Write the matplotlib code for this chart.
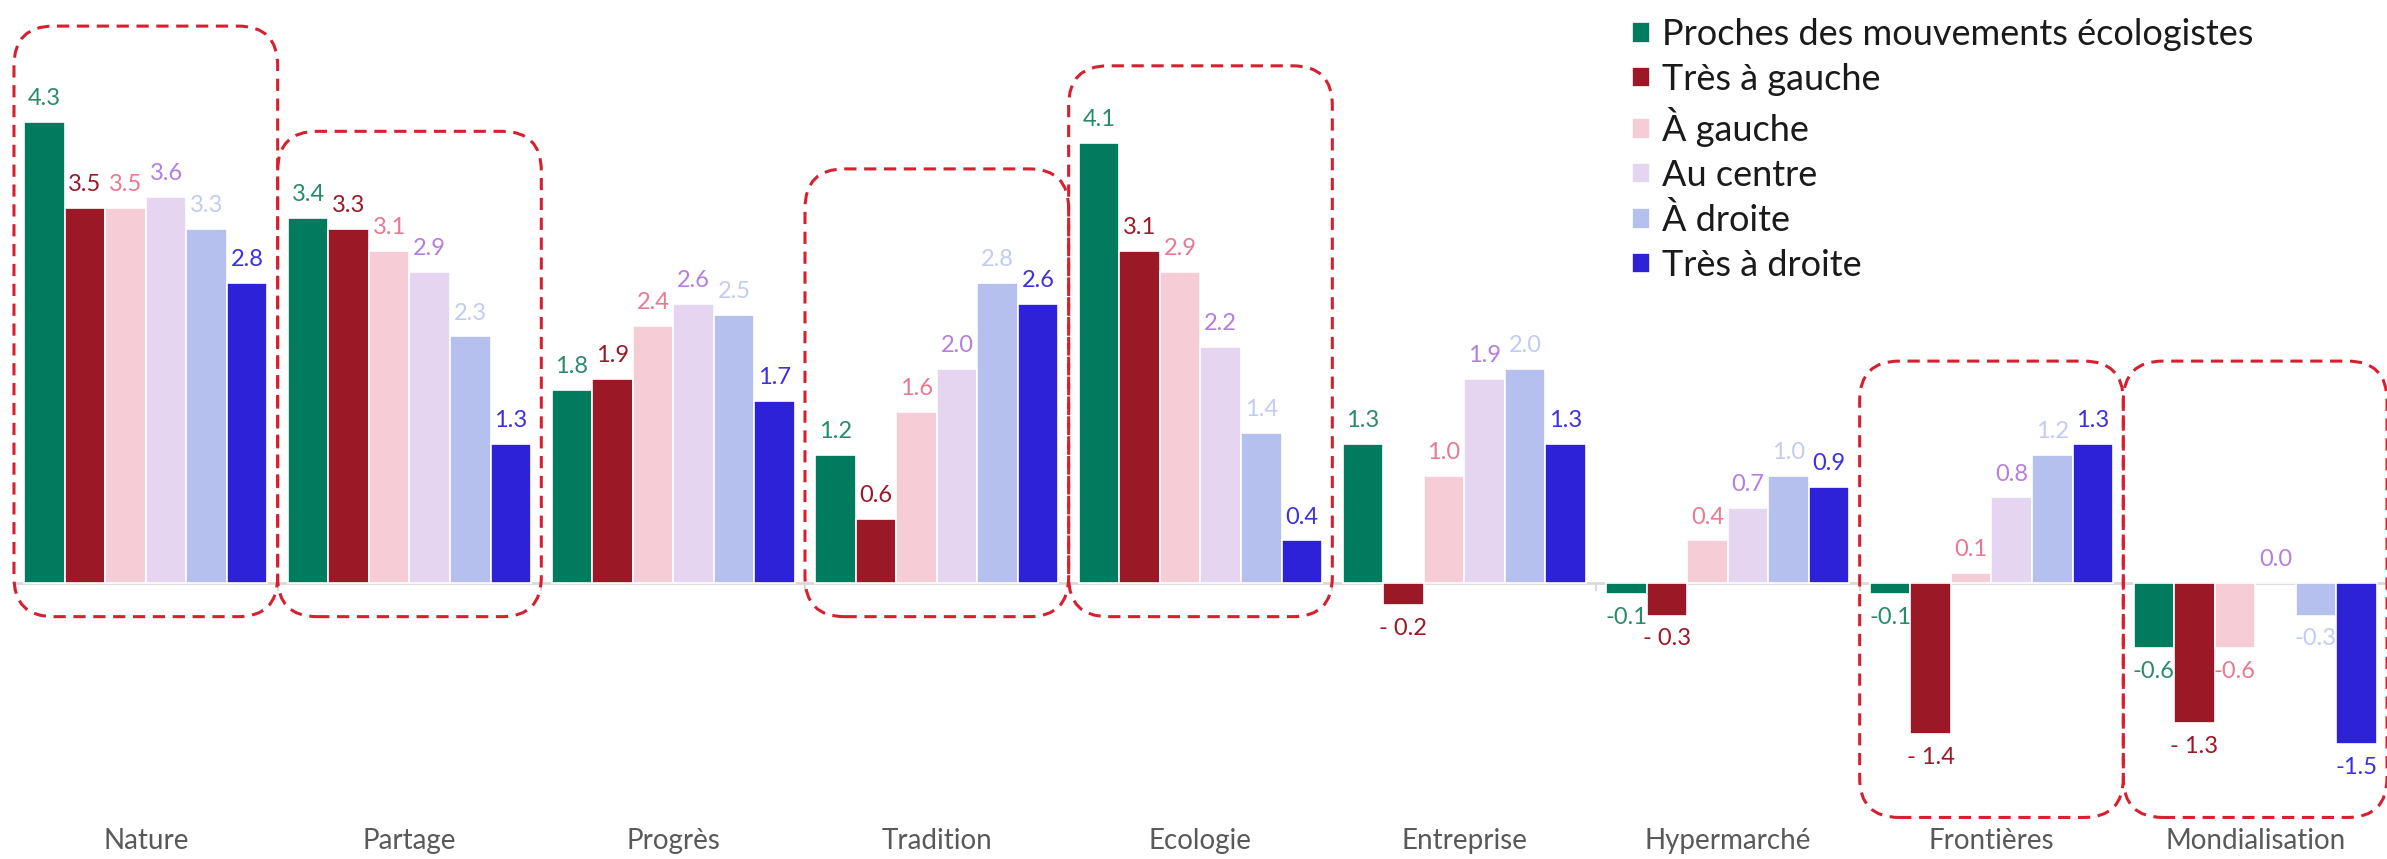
import numpy as np
import matplotlib
matplotlib.use('Agg')
import matplotlib.pyplot as plt
from matplotlib.patches import FancyBboxPatch

plt.rcParams['font.family'] = ['Lato', 'DejaVu Sans']

# données
categories = ['Nature', 'Partage', 'Progrès', 'Tradition', 'Ecologie',
              'Entreprise', 'Hypermarché', 'Frontières', 'Mondialisation']
series = ['Proches des mouvements écologistes', 'Très à gauche', 'À gauche',
          'Au centre', 'À droite', 'Très à droite']
ecolo = [4.3, 3.4, 1.8, 1.2, 4.1, 1.3, -0.1, -0.1, -0.6]
tres_gauche = [3.5, 3.3, 1.9, 0.6, 3.1, -0.2, -0.3, -1.4, -1.3]
gauche = [3.5, 3.1, 2.4, 1.6, 2.9, 1.0, 0.4, 0.1, -0.6]
centre = [3.6, 2.9, 2.6, 2.0, 2.2, 1.9, 0.7, 0.8, 0.0]
droite = [3.3, 2.3, 2.5, 2.8, 1.4, 2.0, 1.0, 1.2, -0.3]
tres_droite = [2.8, 1.3, 1.7, 2.6, 0.4, 1.3, 0.9, 1.3, -1.5]
values = [ecolo, tres_gauche, gauche, centre, droite, tres_droite]

# groupes encadrés : index, haut, bas (unités de données)
boxes = [(0, 5.19, -0.31), (1, 4.21, -0.31), (3, 3.86, -0.31),
         (4, 4.82, -0.31), (7, 2.07, -2.18), (8, 2.07, -2.18)]

bar_colors = ['#007B5E', '#9B1826', '#F6CDD7', '#E5D5F1', '#B5C0EF', '#2E22D9']
text_colors = ['#2A8A6C', '#9B1826', '#E8798F', '#B67DE0', '#C3CBF5', '#3B30E3']

fig = plt.figure(figsize=(23.87, 8.59), dpi=100)
ax = fig.add_axes([0, 0, 1, 1])
ax.set_xlim(-0.553, 8.484)
ax.set_ylim(-2.567, 5.433)

x = np.arange(len(categories))
w = 0.1537
handles = []
for k in range(len(series)):
    pos = x + (k - 2.5) * w
    b = ax.bar(pos, values[k], w, color=bar_colors[k], edgecolor='white',
               linewidth=1.2, label=series[k], zorder=2)
    handles.append(b)
    for xi, v in zip(pos, values[k]):
        if k == 1 and v < 0:
            s = '- %.1f' % abs(v)
        else:
            s = '%.1f' % v
        if v >= 0:
            ax.text(xi, v + 0.12, s, ha='center', va='bottom', fontsize=17,
                    color=text_colors[k])
        else:
            ax.text(xi, v - 0.12, s, ha='center', va='top', fontsize=17,
                    color=text_colors[k])

# axe
for sp in ['top', 'left', 'right']:
    ax.spines[sp].set_visible(False)
ax.spines['bottom'].set_position(('data', 0))
ax.spines['bottom'].set_bounds(-0.5, len(categories) - 0.5)
ax.spines['bottom'].set_color('#D9D9D9')
ax.spines['bottom'].set_linewidth(2)
ax.spines['bottom'].set_zorder(1)
ax.set_xticks(np.arange(len(categories) + 1) - 0.5)
ax.set_xticklabels([])
ax.tick_params(axis='x', length=6, width=1.5, color='#D9D9D9', direction='out')
ax.set_yticks([])

for xi, c in zip(x, categories):
    ax.text(xi, -2.40, c, ha='center', va='center', fontsize=20, color='#595959')

# cadres pointillés arrondis
aspect = (8.484 + 0.553) * 859 / (8.0 * 2387)
for i, top, bot in boxes:
    p = FancyBboxPatch((i - 0.5, bot), 1.0, top - bot,
                       boxstyle='round,pad=0,rounding_size=0.15',
                       mutation_aspect=1 / aspect,
                       fill=False, edgecolor='#D7202F', linewidth=2.2,
                       linestyle=(0, (4, 2.5)), zorder=3)
    ax.add_patch(p)

ax.legend(handles=handles, loc='upper left', bbox_to_anchor=(0.676, 1.0),
          frameon=False, fontsize=26, handlelength=0.5, handleheight=0.5,
          handletextpad=0.35, labelspacing=0.32, borderaxespad=0.1,
          labelcolor='#1A1A1A')

fig.savefig('out.png', dpi=100)
